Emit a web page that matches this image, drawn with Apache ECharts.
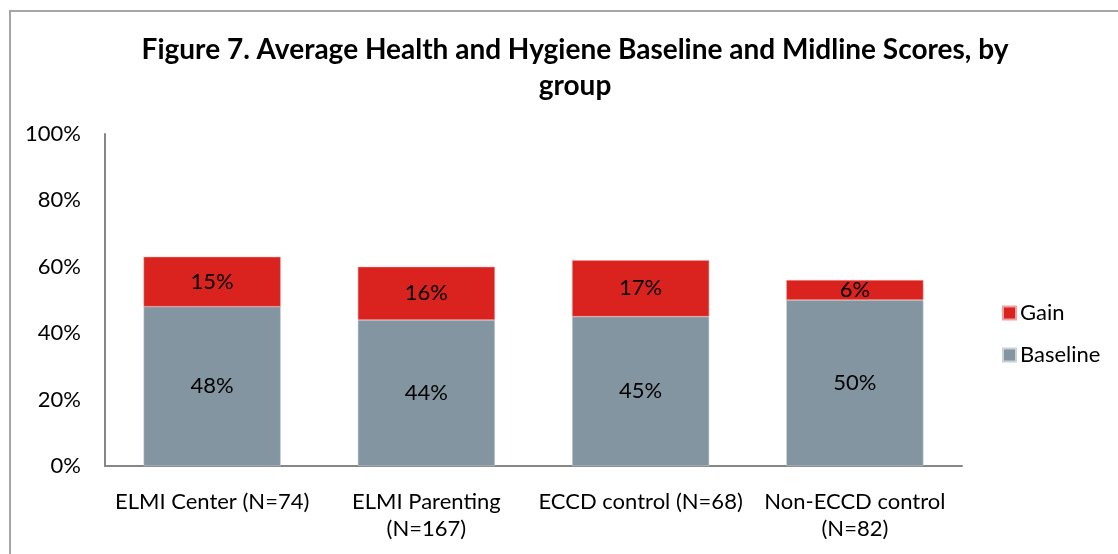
<!DOCTYPE html>
<html>
<head>
<meta charset="utf-8">
<script src="https://cdn.jsdelivr.net/npm/echarts@6/dist/echarts.min.js"></script>
<style>
html,body{margin:0;padding:0;background:#fff;}
#frame{position:absolute;left:9px;top:10px;width:1200px;height:600px;border-left:2px solid #a6a6a6;border-top:2px solid #a6a6a6;box-sizing:border-box;}
#chart{position:absolute;left:0;top:0;width:1118px;height:554px;}
</style>
</head>
<body>
<div id="frame"></div>
<div id="chart"></div>
<script>
const titleText = 'Figure 7. Average Health and Hygiene Baseline and Midline Scores, by\ngroup';
const categories = ['ELMI Center (N=74)', 'ELMI Parenting\n(N=167)', 'ECCD control (N=68)', 'Non-ECCD control\n(N=82)'];
const baseline = [48, 44, 45, 50];
const gain = [15, 16, 17, 6];
const yTicks = [0, 20, 40, 60, 80, 100];

const FONT = 'Lato';
const FS = 22;
const chart = echarts.init(document.getElementById('chart'), null, {renderer: 'canvas'});
chart.setOption({
  backgroundColor: 'transparent',
  animation: false,
  title: {
    text: titleText,
    left: 570,
    textAlign: 'center',
    top: 27,
    textStyle: {fontFamily: FONT, fontSize: 28, fontWeight: 'bold', color: '#000', lineHeight: 36}
  },
  legend: {
    data: ['Gain', 'Baseline'],
    orient: 'vertical',
    left: 997,
    top: 297,
    itemWidth: 13,
    itemHeight: 13,
    itemGap: 20,
    icon: 'rect',
    textStyle: {fontFamily: FONT, fontSize: FS, color: '#000', padding: [0, 0, 0, -1]}
  },
  grid: {left: 105, right: 156, top: 134, bottom: 88, containLabel: false},
  xAxis: {
    type: 'category',
    data: categories,
    axisLine: {lineStyle: {color: '#868686', width: 2}},
    axisTick: {show: false},
    axisLabel: {fontFamily: FONT, fontSize: FS, color: '#000', margin: 22, lineHeight: 27, interval: 0}
  },
  yAxis: {
    type: 'value',
    min: yTicks[0],
    max: yTicks[yTicks.length - 1],
    interval: 20,
    axisLine: {show: true, lineStyle: {color: '#868686', width: 2}},
    axisTick: {show: false},
    splitLine: {show: false},
    axisLabel: {fontFamily: FONT, fontSize: FS, color: '#000', margin: 24, formatter: v => v + '%'}
  },
  series: [
    {
      name: 'Baseline',
      type: 'bar',
      stack: 'total',
      data: baseline,
      barWidth: '64%',
      itemStyle: {color: '#8395a0', borderColor: '#c9d2d8', borderWidth: 0.5},
      label: {show: true, position: 'inside', formatter: p => p.value + '%', fontFamily: FONT, fontSize: FS, color: '#000'}
    },
    {
      name: 'Gain',
      type: 'bar',
      stack: 'total',
      data: gain,
      barWidth: '64%',
      itemStyle: {color: '#da231e', borderColor: '#f0a0a0', borderWidth: 0.5},
      label: {show: true, position: 'inside', formatter: p => p.value + '%', fontFamily: FONT, fontSize: FS, color: '#000'}
    }
  ]
});
</script>
</body>
</html>
